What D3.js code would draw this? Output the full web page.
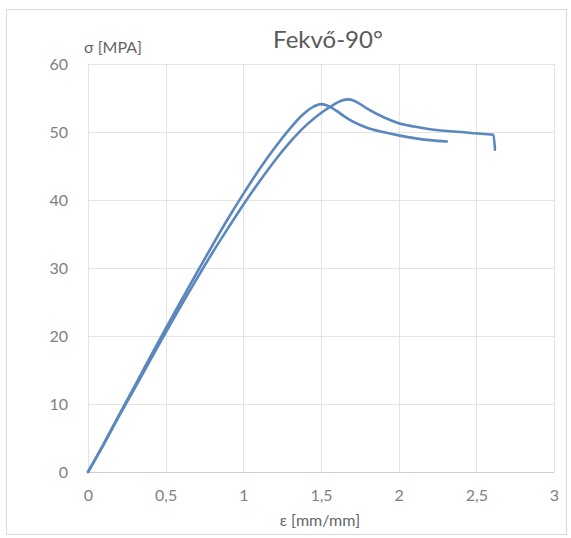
<!DOCTYPE html>
<html>
<head>
<meta charset="utf-8">
<script src="https://cdn.jsdelivr.net/npm/d3@7"></script>
<style>
  html, body { margin: 0; padding: 0; background: #ffffff; }
  svg { display: block; }
  text { font-family: Lato, "Open Sans", sans-serif; }
</style>
</head>
<body>
<script>
// Stress–strain curves, two specimens
const chartTitle = "Fekvő-90°";
const yAxisTitle = "σ [MPA]";
const xAxisTitle = "ε [mm/mm]";

const xTicks = [0, 0.5, 1, 1.5, 2, 2.5, 3];
const yTicks = [0, 10, 20, 30, 40, 50, 60];

// specimen 1: strain [mm/mm], stress [MPa]
const strain1 = [0, 0.1, 0.2, 0.3, 0.4, 0.5, 0.6, 0.7, 0.8, 0.9, 1.0, 1.1, 1.2, 1.3, 1.38, 1.45, 1.5, 1.55, 1.6, 1.65, 1.7, 1.8, 1.9, 2.0, 2.1, 2.2, 2.31];
const stress1 = [0, 4.1, 8.4, 12.6, 16.9, 21.1, 25.2, 29.3, 33.3, 37.2, 40.9, 44.4, 47.6, 50.5, 52.5, 53.7, 54.1, 53.8, 53.1, 52.3, 51.6, 50.6, 50.0, 49.5, 49.1, 48.8, 48.6];

// specimen 2
const strain2 = [0, 0.1, 0.2, 0.3, 0.4, 0.5, 0.6, 0.7, 0.8, 0.9, 1.0, 1.1, 1.2, 1.3, 1.4, 1.5, 1.58, 1.63, 1.68, 1.73, 1.8, 1.9, 2.0, 2.1, 2.2, 2.4, 2.55, 2.61, 2.62];
const stress2 = [0, 4.0, 8.2, 12.3, 16.4, 20.5, 24.5, 28.4, 32.2, 35.8, 39.3, 42.6, 45.7, 48.5, 50.9, 52.8, 54.0, 54.6, 54.8, 54.4, 53.4, 52.2, 51.3, 50.8, 50.4, 50.0, 49.7, 49.6, 47.4];

const W = 571, H = 538;
const plot = { left: 88, right: 554, top: 64, bottom: 472 };

const svg = d3.select("body").append("svg")
  .attr("width", W).attr("height", H);

// chart frame
svg.append("rect")
  .attr("x", 6.5).attr("y", 9.5)
  .attr("width", 560).attr("height", 525)
  .attr("fill", "#ffffff")
  .attr("stroke", "#d9d9d9").attr("stroke-width", 1);

const x = d3.scaleLinear().domain([0, 3]).range([plot.left, plot.right]);
const y = d3.scaleLinear().domain([0, 60]).range([plot.bottom, plot.top]);

// gridlines
const grid = svg.append("g");
grid.selectAll("line.h").data(yTicks).join("line")
  .attr("x1", plot.left).attr("x2", plot.right)
  .attr("y1", d => Math.round(y(d)) + 0.5).attr("y2", d => Math.round(y(d)) + 0.5)
  .attr("stroke", d => d === 0 ? "#d0d0d0" : "#e3e3e3").attr("stroke-width", 1);
grid.selectAll("line.v").data(xTicks).join("line")
  .attr("y1", plot.top).attr("y2", plot.bottom)
  .attr("x1", d => Math.round(x(d)) + 0.5).attr("x2", d => Math.round(x(d)) + 0.5)
  .attr("stroke", "#e3e3e3").attr("stroke-width", 1);

// axes (labels only)
const fmt = d => String(d).replace(".", ",");
const xAxis = svg.append("g")
  .attr("transform", `translate(0,${plot.bottom})`)
  .call(d3.axisBottom(x).tickValues(xTicks).tickFormat(fmt).tickSize(0).tickPadding(18));
xAxis.select(".domain").remove();
xAxis.selectAll("text").attr("font-size", 16).attr("fill", "#808080")
  .attr("font-family", "Lato, 'Open Sans', sans-serif");

const yAxis = svg.append("g")
  .attr("transform", `translate(${plot.left},0)`)
  .call(d3.axisLeft(y).tickValues(yTicks).tickSize(0).tickPadding(20));
yAxis.select(".domain").remove();
yAxis.selectAll("text").attr("font-size", 16).attr("fill", "#808080")
  .attr("font-family", "Lato, 'Open Sans', sans-serif");

// curves
const line = d3.line()
  .x(d => x(d[0])).y(d => y(d[1]))
  .curve(d3.curveMonotoneX);
const series = [
  d3.zip(strain1, stress1),
  d3.zip(strain2, stress2)
];
svg.append("g").selectAll("path").data(series).join("path")
  .attr("d", line)
  .attr("fill", "none")
  .attr("stroke", "#5a87bd")
  .attr("stroke-width", 2.6)
  .attr("stroke-linejoin", "round")
  .attr("stroke-linecap", "round");

// titles
svg.append("text")
  .attr("x", 328).attr("y", 48)
  .attr("text-anchor", "middle")
  .attr("font-size", 24).attr("fill", "#595959")
  .text(chartTitle);

svg.append("text")
  .attr("x", 84).attr("y", 53)
  .attr("font-size", 16).attr("fill", "#666666")
  .text(yAxisTitle);

svg.append("text")
  .attr("x", 320).attr("y", 526)
  .attr("text-anchor", "middle")
  .attr("font-size", 16).attr("fill", "#666666")
  .text(xAxisTitle);
</script>
</body>
</html>
